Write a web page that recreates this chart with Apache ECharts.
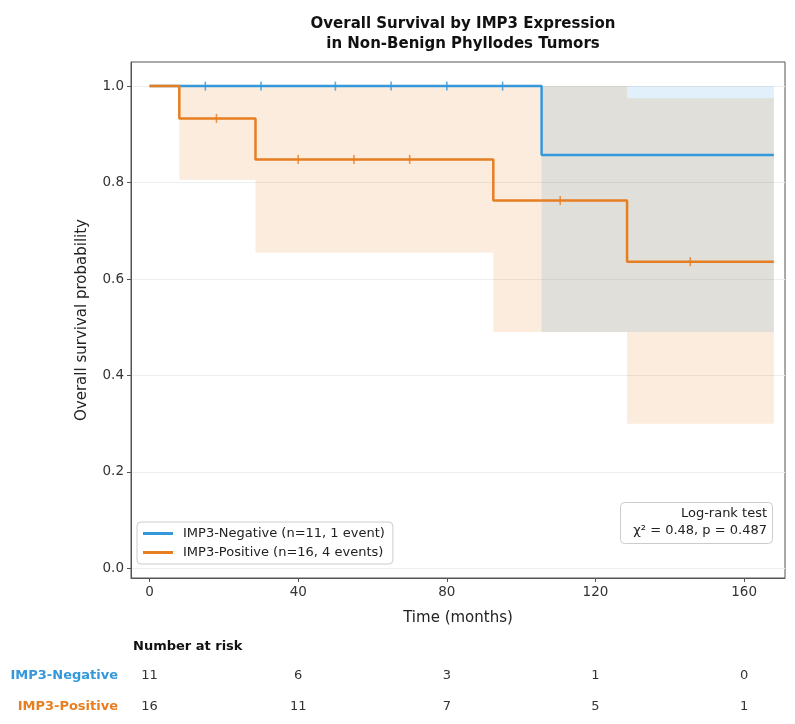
<!DOCTYPE html>
<html>
<head>
<meta charset="utf-8">
<script src="https://cdn.jsdelivr.net/npm/echarts@6/dist/echarts.min.js"></script>
<style>
  html, body { margin: 0; padding: 0; background: #fff; }
  #main { width: 795px; height: 724px; }
</style>
</head>
<body>
<div id="main"></div>
<script>
// Kaplan-Meier step curves (time in months, survival probability)
var negTimes = [0, 105.5, 168];
var negSurv = [1.0, 0.857, 0.857];
var posTimes = [0, 8, 28.5, 92.5, 128.5, 168];
var posSurv = [1.0, 0.933, 0.848, 0.763, 0.636, 0.636];

// censored observations
var negCensorTimes = [15, 30, 50, 65, 80, 95];
var negCensorSurv = [1.0, 1.0, 1.0, 1.0, 1.0, 1.0];
var posCensorTimes = [18, 40, 55, 70, 110.5, 145.5];
var posCensorSurv = [0.933, 0.848, 0.848, 0.848, 0.763, 0.636];

// confidence bands: [start, end, lower, upper]
var negBands = [[105.5, 168, 0.49, 1.0]];
var posBands = [[8, 28.5, 0.806, 1.0], [28.5, 92.5, 0.655, 1.0], [92.5, 128.5, 0.49, 1.0], [128.5, 168, 0.30, 0.975]];

// number at risk table
var riskTimes = [0, 40, 80, 120, 160];
var riskNeg = [11, 6, 3, 1, 0];
var riskPos = [16, 11, 7, 5, 1];

var xTicks = [0, 40, 80, 120, 160];
var yTicks = [0, 0.2, 0.4, 0.6, 0.8, 1.0];

var negName = 'IMP3-Negative (n=11, 1 event)';
var posName = 'IMP3-Positive (n=16, 4 events)';
var blue = '#3498db';
var orange = '#e67e22';
var font = 'DejaVu Sans';

function pairs(xs, ys) {
    var out = [];
    for (var i = 0; i < xs.length; i++) out.push([xs[i], ys[i]]);
    return out;
}

function bandSeries(bands, fill) {
    return {
        type: 'custom',
        silent: true,
        z: 1,
        data: bands,
        encode: { x: [0, 1], y: [2, 3] },
        renderItem: function (params, api) {
            var p0 = api.coord([api.value(0), api.value(3)]);
            var p1 = api.coord([api.value(1), api.value(2)]);
            return {
                type: 'rect',
                shape: { x: p0[0], y: p0[1], width: p1[0] - p0[0], height: p1[1] - p0[1] },
                style: { fill: fill }
            };
        }
    };
}

function censorSeries(xs, ys, color) {
    return {
        type: 'scatter',
        silent: true,
        z: 4,
        data: pairs(xs, ys),
        symbol: 'rect',
        symbolSize: [1.6, 9],
        itemStyle: { color: color }
    };
}

var myChart = echarts.init(document.getElementById('main'));

var option = {
    animation: false,
    backgroundColor: '#fff',
    textStyle: { fontFamily: font },
    title: {
        text: 'Overall Survival by IMP3 Expression\nin Non-Benign Phyllodes Tumors',
        left: 458,
        top: 9,
        textAlign: 'center',
        textStyle: { fontFamily: font, fontSize: 15, fontWeight: 'bold', lineHeight: 20, color: '#111' }
    },
    grid: {
        left: 131, right: 10, top: 62, bottom: 146,
        show: true, borderColor: '#555', borderWidth: 1
    },
    legend: {
        orient: 'vertical',
        left: 137,
        top: 522,
        data: [negName, posName],
        icon: 'rect',
        itemWidth: 30,
        itemHeight: 3,
        itemGap: 6,
        padding: [5, 8, 5, 6],
        borderColor: '#ccc',
        borderWidth: 1,
        borderRadius: 4,
        backgroundColor: 'rgba(255,255,255,0.85)',
        textStyle: { fontFamily: font, fontSize: 13, color: '#222', padding: [0, 0, 0, 5] }
    },
    xAxis: {
        type: 'value',
        min: -5,
        max: 171,
        name: 'Time (months)',
        nameLocation: 'middle',
        nameGap: 33,
        nameTextStyle: { fontFamily: font, fontSize: 15, color: '#222' },
        axisLine: { show: true, onZero: false, lineStyle: { color: '#555' } },
        axisTick: { show: true, length: 4, lineStyle: { color: '#555' }, customValues: xTicks },
        axisLabel: { customValues: xTicks, color: '#333', fontSize: 13.5, margin: 7 },
        splitLine: { show: false }
    },
    yAxis: {
        type: 'value',
        min: -0.02,
        max: 1.05,
        name: 'Overall survival probability',
        nameLocation: 'middle',
        nameGap: 41,
        nameTextStyle: { fontFamily: font, fontSize: 15, color: '#222' },
        axisLine: { show: true, onZero: false, lineStyle: { color: '#555' } },
        axisTick: { show: true, length: 4, lineStyle: { color: '#555' }, customValues: yTicks },
        axisLabel: {
            customValues: yTicks, color: '#333', fontSize: 13.5, margin: 7,
            formatter: function (v) { return v.toFixed(1); }
        },
        splitLine: { show: false }
    },
    series: [
        {
            // faint horizontal grid
            type: 'line',
            data: [],
            z: 0,
            silent: true,
            markLine: {
                z: 0,
                silent: true,
                symbol: 'none',
                label: { show: false },
                lineStyle: { color: '#eeeeee', type: 'solid', width: 1 },
                data: yTicks.map(function (v) { return { yAxis: v }; })
            }
        },
        bandSeries(negBands, 'rgba(52,152,219,0.15)'),
        bandSeries(posBands, 'rgba(230,126,34,0.15)'),
        {
            name: negName,
            type: 'line',
            step: 'end',
            z: 3,
            showSymbol: false,
            data: pairs(negTimes, negSurv),
            itemStyle: { color: blue },
            lineStyle: { color: blue, width: 2.5 }
        },
        {
            name: posName,
            type: 'line',
            step: 'end',
            z: 3,
            showSymbol: false,
            data: pairs(posTimes, posSurv),
            itemStyle: { color: orange },
            lineStyle: { color: orange, width: 2.5 }
        },
        censorSeries(negCensorTimes, negCensorSurv, blue),
        censorSeries(posCensorTimes, posCensorSurv, orange)
    ]
};
myChart.setOption(option);

// log-rank box and number-at-risk table, placed with the x scale
var graphics = [
    {
        type: 'rect',
        shape: { x: 620.5, y: 502.5, width: 152, height: 41, r: 4 },
        style: { fill: 'rgba(255,255,255,0.85)', stroke: '#ccc', lineWidth: 1 },
        z: 10
    },
    {
        type: 'text',
        x: 767,
        y: 514,
        z: 11,
        style: { text: 'Log-rank test', font: '13px "DejaVu Sans"', fill: '#222', align: 'right', verticalAlign: 'middle' }
    },
    {
        type: 'text',
        x: 767,
        y: 531,
        z: 11,
        style: { text: 'χ² = 0.48, p = 0.487', font: '13px "DejaVu Sans"', fill: '#222', align: 'right', verticalAlign: 'middle' }
    },
    {
        type: 'text',
        x: 133,
        y: 647,
        style: { text: 'Number at risk', font: 'bold 13px "DejaVu Sans"', fill: '#111', verticalAlign: 'middle' }
    },
    {
        type: 'text',
        x: 118,
        y: 676,
        style: { text: 'IMP3-Negative', font: 'bold 13px "DejaVu Sans"', fill: blue, align: 'right', verticalAlign: 'middle' }
    },
    {
        type: 'text',
        x: 118,
        y: 707,
        style: { text: 'IMP3-Positive', font: 'bold 13px "DejaVu Sans"', fill: orange, align: 'right', verticalAlign: 'middle' }
    }
];
for (var i = 0; i < riskTimes.length; i++) {
    var px = myChart.convertToPixel({ xAxisIndex: 0 }, riskTimes[i]);
    graphics.push({
        type: 'text', x: px, y: 676,
        style: { text: String(riskNeg[i]), font: '13px "DejaVu Sans"', fill: '#333', align: 'center', verticalAlign: 'middle' }
    });
    graphics.push({
        type: 'text', x: px, y: 707,
        style: { text: String(riskPos[i]), font: '13px "DejaVu Sans"', fill: '#333', align: 'center', verticalAlign: 'middle' }
    });
}
myChart.setOption({ graphic: graphics });
</script>
</body>
</html>
